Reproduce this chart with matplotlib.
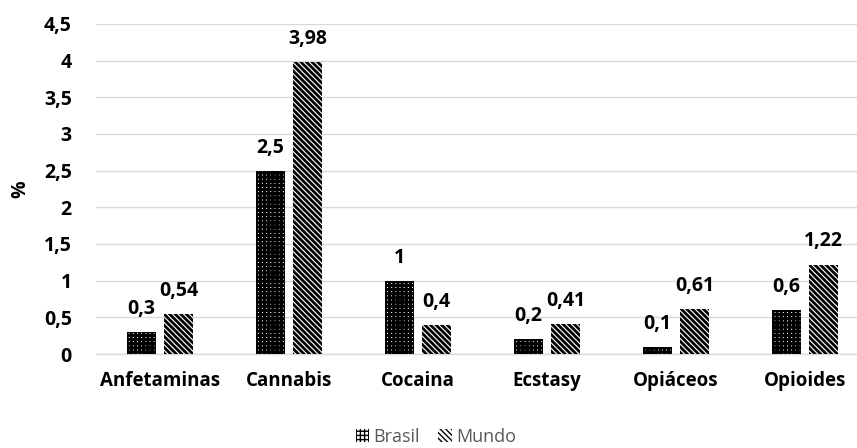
import matplotlib
matplotlib.use("Agg")
import matplotlib.pyplot as plt
import numpy as np
from matplotlib.patches import Patch

categories = ["Anfetaminas", "Cannabis", "Cocaina", "Ecstasy", "Opiáceos", "Opioides"]
brasil = [0.3, 2.5, 1.0, 0.2, 0.1, 0.6]
mundo = [0.54, 3.98, 0.4, 0.41, 0.61, 1.22]
brasil_labels = ["0,3", "2,5", "1", "0,2", "0,1", "0,6"]
mundo_labels = ["0,54", "3,98", "0,4", "0,41", "0,61", "1,22"]
yticks = [0, 0.5, 1, 1.5, 2, 2.5, 3, 3.5, 4, 4.5]
ytick_labels = ["0", "0,5", "1", "1,5", "2", "2,5", "3", "3,5", "4", "4,5"]

plt.rcParams["font.family"] = ["Open Sans", "DejaVu Sans"]

W, H = 857, 448
fig = plt.figure(figsize=(W / 100, H / 100), dpi=100)
ax = fig.add_axes([95.5 / W, 1 - 354 / H, 774 / W, 330 / H])

x = np.arange(len(categories))
bw = 0.222
off = 0.145
HATCH_B = "++++"
HATCH_M = "\\" * 6


def hatched_bars(xpos, vals, hatch, lw):
    with plt.rc_context({"hatch.linewidth": lw, "hatch.color": "black"}):
        bars = ax.bar(xpos, vals, bw, facecolor="white", edgecolor="black",
                      hatch=hatch, linewidth=0, zorder=3)
    for b in bars:
        if hasattr(b, "set_hatch_linewidth"):
            b.set_hatch_linewidth(lw)
    return bars


hatched_bars(x - off, brasil, HATCH_B, 2.2)
hatched_bars(x + off, mundo, HATCH_M, 2.0)

for xs, vals, labs in ((x - off, brasil, brasil_labels), (x + off, mundo, mundo_labels)):
    for xi, v, lab in zip(xs, vals, labs):
        ax.annotate(lab, (xi, v), xytext=(0, 13), textcoords="offset points",
                    ha="center", va="baseline", fontsize=14, fontweight="bold",
                    annotation_clip=False)

ax.set_xlim(-0.5, len(categories) - 0.5)
ax.set_ylim(0, 4.5)
ax.set_yticks(yticks)
ax.set_yticklabels(ytick_labels, fontsize=14, fontweight="bold")
ax.set_xticks(x)
ax.set_xticklabels(categories, fontsize=13.5, fontweight="bold")
ax.tick_params(axis="both", length=0)
ax.tick_params(axis="y", pad=17)
ax.tick_params(axis="x", pad=12)
ax.set_ylabel("%", fontsize=14, fontweight="bold", labelpad=10)

ax.grid(axis="y", color="#d9d9d9", linewidth=1, zorder=0)
ax.set_axisbelow(True)
for s in ["top", "right", "left"]:
    ax.spines[s].set_visible(False)
ax.spines["bottom"].set_color("#d9d9d9")
ax.spines["bottom"].set_linewidth(1)

with plt.rc_context({"hatch.linewidth": 2.0}):
    handles = [Patch(facecolor="white", edgecolor="black", hatch=HATCH_B, linewidth=0),
               Patch(facecolor="white", edgecolor="black", hatch=HATCH_M, linewidth=0)]
leg = fig.legend(handles, ["Brasil", "Mundo"], loc="center",
                 bbox_to_anchor=(436 / W, 1 - 437 / H),
                 ncol=2, frameon=False, fontsize=13, handlelength=0.75, handleheight=0.75,
                 handletextpad=0.25, columnspacing=1.0, borderpad=0)
for t in leg.get_texts():
    t.set_color("#595959")

fig.savefig("out.png", dpi=100)
